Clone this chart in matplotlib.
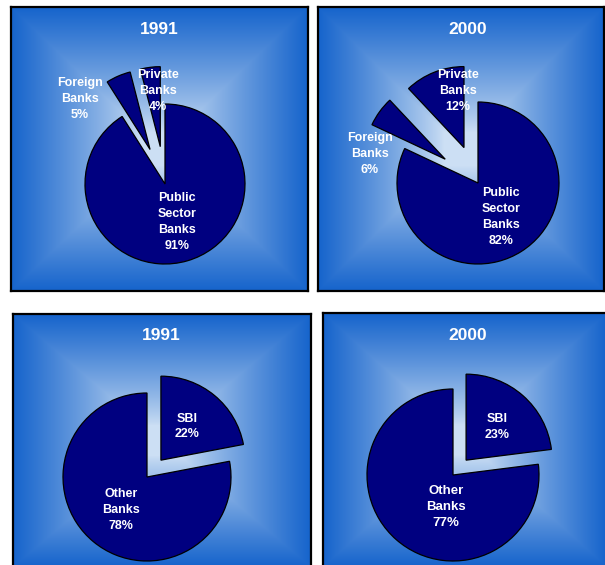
import numpy as np
import matplotlib
matplotlib.use("Agg")
import matplotlib.pyplot as plt

plt.rcParams['font.family'] = ['Liberation Sans', 'DejaVu Sans']

# ---- data ----
titles = ["1991", "2000", "1991", "2000"]
top_labels = ["Public\nSector\nBanks", "Foreign\nBanks", "Private\nBanks"]
top_1991 = [91, 5, 4]
top_2000 = [82, 6, 12]
bottom_labels = ["SBI", "Other\nBanks"]
bottom_1991 = [22, 78]
bottom_2000 = [23, 77]

W, H = 605, 565
fig = plt.figure(figsize=(W / 100, H / 100), dpi=100)
fig.patch.set_facecolor("white")

edge_col = np.array([0x16, 0x64, 0xcc]) / 255.0
center_col = np.array([0xcc, 0xdf, 0xf4]) / 255.0


def make_panel(x0, y0, x1, y1):
    ax = fig.add_axes([x0 / W, 1 - y1 / H, (x1 - x0) / W, (y1 - y0) / H])
    w, h = x1 - x0, y1 - y0
    nx, ny = int(w), int(h)
    xs = np.linspace(-1, 1, nx)
    ys = np.linspace(-1, 1, ny)
    X, Y = np.meshgrid(xs, ys)
    t = np.maximum(np.abs(X), np.abs(Y))
    f = np.clip((t - 0.12) / 0.88, 0, 1) ** 0.85
    img = center_col[None, None, :] * (1 - f[..., None]) + edge_col[None, None, :] * f[..., None]
    ax.imshow(img, extent=(x0, x1, H - y1, H - y0), origin="lower",
              interpolation="bilinear", zorder=0, aspect="auto")
    return ax


def finish(ax, x0, y0, x1, y1):
    ax.set_xlim(x0, x1)
    ax.set_ylim(H - y1, H - y0)
    ax.set_aspect("auto")
    ax.set_xticks([])
    ax.set_yticks([])
    for s in ax.spines.values():
        s.set_color("black")
        s.set_linewidth(1.6)
        s.set_visible(True)


def txt(ax, x, y, s, size=9):
    ax.text(x, H - y, s, ha="center", va="center", color="white",
            fontsize=size, fontweight="bold", linespacing=1.42, zorder=5)


wedge_kw = dict(edgecolor="black", linewidth=0.9)
navy = "#000080"


def draw_pie(ax, values, explode_frac, cx, cy, r):
    ax.pie(values, colors=[navy] * len(values), startangle=90, counterclock=False,
           explode=[e * r for e in explode_frac], center=(cx, H - cy), radius=r,
           wedgeprops=wedge_kw, frame=True)


# ---- top-left: 1991 ----
p = (11, 7, 308, 291)
ax = make_panel(*p)
draw_pie(ax, top_1991, [0, 0.47, 0.47], 165, 184, 80)
finish(ax, *p)
txt(ax, 159, 29, titles[0], 12.5)
txt(ax, 177, 222, f"{top_labels[0]}\n{top_1991[0]}%")
txt(ax, 80, 99, f"{top_labels[1]}\n{top_1991[1]}%")
txt(ax, 158, 91, f"{top_labels[2]}\n{top_1991[2]}%")

# ---- top-right: 2000 ----
p = (318, 7, 604, 291)
ax = make_panel(*p)
draw_pie(ax, top_2000, [0, 0.5, 0.47], 478, 183, 81)
finish(ax, *p)
txt(ax, 468, 29, titles[1], 12.5)
txt(ax, 501, 217, f"{top_labels[0]}\n{top_2000[0]}%")
txt(ax, 370, 154, f"{top_labels[1]}\n{top_2000[1]}%")
txt(ax, 458, 91, f"{top_labels[2]}\n{top_2000[2]}%")

# ---- bottom-left: 1991 ----
p = (13, 314, 311, 567)
ax = make_panel(*p)
draw_pie(ax, bottom_1991, [0.26, 0], 147, 477, 84)
finish(ax, *p)
txt(ax, 161, 336, titles[2], 12.5)
txt(ax, 187, 426.5, f"{bottom_labels[0]}\n{bottom_1991[0]}%")
txt(ax, 121, 510, f"{bottom_labels[1]}\n{bottom_1991[1]}%")

# ---- bottom-right: 2000 ----
p = (323, 313, 607, 567)
ax = make_panel(*p)
draw_pie(ax, bottom_2000, [0.23, 0], 453, 475, 86)
finish(ax, *p)
txt(ax, 468, 336, titles[3], 12.5)
txt(ax, 497, 427, f"{bottom_labels[0]}\n{bottom_2000[0]}%")
txt(ax, 446, 507, f"{bottom_labels[1]}\n{bottom_2000[1]}%", 9.5)

fig.savefig("out.png", dpi=100, facecolor="white")
